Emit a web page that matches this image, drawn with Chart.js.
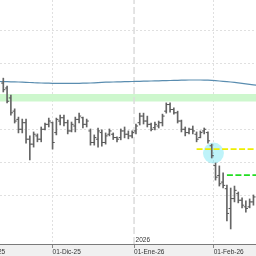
<!DOCTYPE html>
<html><head><meta charset="utf-8">
<script src="https://cdn.jsdelivr.net/npm/chart.js@4"></script>
<style>
html,body{margin:0;padding:0;width:256px;height:256px;overflow:hidden;background:#fff}
#wrap{position:absolute;left:-40px;top:0;width:296px;height:256px}
</style></head>
<body><div id="wrap"><canvas id="c" width="296" height="256"></canvas></div>
<script>
// trading days (categories)
const dates = [
'2025-11-03','2025-11-04','2025-11-05','2025-11-06','2025-11-07','2025-11-10','2025-11-11','2025-11-12','2025-11-13','2025-11-14',
'2025-11-17','2025-11-18','2025-11-19','2025-11-20','2025-11-21','2025-11-24','2025-11-25','2025-11-26','2025-11-27','2025-11-28',
'2025-12-01','2025-12-02','2025-12-03','2025-12-04','2025-12-05','2025-12-08','2025-12-09','2025-12-10','2025-12-11','2025-12-12',
'2025-12-15','2025-12-16','2025-12-17','2025-12-18','2025-12-19','2025-12-22','2025-12-23','2025-12-24','2025-12-26','2025-12-29',
'2025-12-30','2025-12-31','2026-01-02','2026-01-05','2026-01-06','2026-01-07','2026-01-08','2026-01-09','2026-01-12','2026-01-13',
'2026-01-14','2026-01-15','2026-01-16','2026-01-19','2026-01-20','2026-01-21','2026-01-22','2026-01-23','2026-01-26','2026-01-27',
'2026-01-28','2026-01-29','2026-01-30','2026-02-02','2026-02-03','2026-02-04','2026-02-05','2026-02-06','2026-02-09','2026-02-10',
'2026-02-11','2026-02-12','2026-02-13','2026-02-16','2026-02-17'];

const high = [null,null,null,null,null,null,null,
23.55,23.31,23.04,22.62,22.37,22.31,22.31,21.80,21.92,21.86,
22.07,22.19,22.34,22.22,22.34,22.43,22.43,22.28,22.22,22.37,
22.49,22.37,22.31,22.01,21.83,22.04,21.98,21.89,22.01,21.89,
21.77,22.01,22.07,21.95,21.95,22.16,22.49,22.49,22.40,22.19,
22.22,22.25,22.46,22.80,22.80,22.65,22.55,22.28,22.07,22.04,
22.10,21.92,21.95,22.04,21.92,21.55,20.98,20.89,20.68,20.31,
20.22,20.28,20.10,19.92,19.83,19.89,20.01,null];
const low = [null,null,null,null,null,null,null,
23.13,22.80,22.43,22.19,21.89,21.89,21.58,21.07,21.46,21.62,
21.62,21.98,22.07,21.40,21.83,22.13,22.10,21.86,21.92,21.92,
22.19,22.04,22.07,21.52,21.52,21.46,21.49,21.55,21.80,21.69,
21.62,21.68,21.74,21.71,21.74,21.86,22.13,22.16,22.07,21.95,
21.98,22.04,22.10,22.49,22.52,22.46,22.19,21.92,21.80,21.86,
21.86,21.62,21.74,21.86,21.58,21.13,20.46,20.28,20.22,19.22,
18.98,19.80,19.77,19.62,19.49,19.62,19.70,null];
const open = [null,null,null,null,null,null,null,
23.40,23.25,22.95,22.55,22.30,22.00,22.20,21.70,21.55,21.80,
21.70,22.00,22.15,22.20,21.90,22.25,22.35,22.20,21.95,22.10,
22.30,22.35,22.15,21.95,21.60,21.70,21.90,21.60,21.85,21.85,
21.75,21.75,21.95,21.85,21.80,21.95,22.20,22.40,22.25,22.15,
22.05,22.10,22.20,22.55,22.75,22.60,22.50,22.25,22.00,21.90,
22.00,21.85,21.75,21.95,21.90,21.50,20.90,20.60,20.40,20.20,
19.60,19.90,20.05,19.85,19.65,19.65,19.80,null];
const close = [null,null,null,null,null,null,null,
23.20,22.85,22.50,22.25,22.00,22.20,21.70,21.55,21.85,21.70,
22.00,22.15,22.25,21.60,22.30,22.35,22.20,21.95,22.15,22.30,
22.40,22.15,22.25,21.60,21.75,21.95,21.60,21.80,21.95,21.75,
21.70,21.95,21.85,21.80,21.90,22.10,22.40,22.25,22.15,22.00,
22.15,22.20,22.40,22.75,22.60,22.50,22.25,22.00,21.90,22.00,
21.95,21.70,21.90,22.00,21.65,21.20,20.55,20.35,20.30,19.45,
19.90,20.15,19.85,19.70,19.60,19.80,19.95,null];
// moving average
const movingAvg = [null,null,null,null,null,null,23.448,
23.445,23.442,23.439,23.436,23.433,23.430,23.424,23.418,23.412,23.409,
23.403,23.400,23.397,23.394,23.394,23.391,23.391,23.391,23.391,23.394,
23.394,23.397,23.400,23.403,23.409,23.415,23.421,23.427,23.430,23.433,
23.436,23.439,23.442,23.445,23.448,23.451,23.454,23.457,23.460,23.463,
23.467,23.470,23.473,23.476,23.479,23.482,23.485,23.488,23.491,23.494,
23.494,23.494,23.494,23.491,23.488,23.482,23.473,23.463,23.454,23.445,
23.433,23.421,23.409,23.394,23.379,23.363,23.348,23.333];

const gridLevels = [20, 21, 22, 23, 24, 25];
const zoneLevels = [22.84, 23.07];          // green band (low, high)
const yellowLevel = 21.40, yellowFrom = '2026-01-26';
const greenLevel = 20.61,  greenFrom = '2026-02-05';
const signalPos = 62.45, signalLevel = 21.28; // highlighted circle
const mesAbbr = ['Ene','Feb','Mar','Abr','May','Jun','Jul','Ago','Sep','Oct','Nov','Dic'];

const X_MIN = -4.425, X_MAX = 73.675, Y_MIN = 18.524, Y_MAX = 25.918;

// month ticks derived from the trading-day list
const monthTicks = [];
dates.forEach((d, i) => {
  const [y, m, day] = d.split('-').map(Number);
  const prev = i > 0 ? dates[i-1].split('-').map(Number) : null;
  if (!prev || prev[1] !== m) {
    monthTicks.push({pos: day === 1 ? i : i - 0.5,
      label: '01-' + mesAbbr[m-1] + '-' + String(y).slice(2),
      year: y, newYear: !!prev && prev[0] !== y});
  }
});
const yearTick = monthTicks.find(t => t.newYear);
const idx = dates.map((_, i) => i);
const last = dates.length - 1;

const bgPlugin = {id:'bg', beforeDraw(c){
  const {ctx, chartArea:a, width, height} = c;
  ctx.save(); ctx.fillStyle = '#fff'; ctx.fillRect(0,0,width,height);
  ctx.fillStyle = '#f0f0f0'; ctx.fillRect(0, a.bottom, width, height - a.bottom); ctx.restore();
}};
const yearPlugin = {id:'year', afterDraw(c){
  if (!yearTick) return;
  const ctx = c.ctx, px = c.scales.x.getPixelForValue(yearTick.pos);
  ctx.save(); ctx.font = '6.5px "Liberation Sans", Arial, sans-serif'; ctx.fillStyle = '#333';
  ctx.textAlign = 'left'; ctx.textBaseline = 'alphabetic';
  ctx.fillText(String(yearTick.year), px + 1.5, c.chartArea.bottom - 2.3); ctx.restore();
}};

new Chart(document.getElementById('c'), {
  type: 'line',
  data: { datasets: [
    {type:'line', data:[{x:X_MIN-1,y:zoneLevels[0]},{x:X_MAX+1,y:zoneLevels[0]}], borderWidth:0, pointRadius:0, order:20},
    {type:'line', data:[{x:X_MIN-1,y:zoneLevels[1]},{x:X_MAX+1,y:zoneLevels[1]}], borderWidth:0, pointRadius:0, fill:'-1', backgroundColor:'#cdf7cd', order:19},
    {type:'line', data:[{x:yearTick.pos,y:Y_MIN},{x:yearTick.pos,y:Y_MAX}], borderColor:'#dcdcdc', borderWidth:1.5, borderDash:[7,3], pointRadius:0, order:18},
    {type:'line', data: idx.map(i => ({x:i, y:movingAvg[i]})), borderColor:'#5a8db0', borderWidth:1.2, pointRadius:0, spanGaps:true, order:15},
    {type:'scatter', data:[{x:signalPos, y:signalLevel}], pointRadius:10.5, backgroundColor:'rgba(110,228,242,0.45)', borderWidth:0, order:12},
    {type:'bar', data: idx.filter(i => high[i] != null).map(i => ({x:i, y:[low[i], high[i]]})), backgroundColor:'#666', barThickness:1, grouped:false, borderWidth:0, order:6},
    {type:'scatter', data: idx.filter(i => open[i] != null).map(i => ({x:i-0.3, y:open[i]})), pointStyle:'line', pointRadius:1, borderColor:'#555', borderWidth:1, order:5},
    {type:'scatter', data: idx.filter(i => close[i] != null).map(i => ({x:i+0.3, y:close[i]})), pointStyle:'line', pointRadius:1, borderColor:'#555', borderWidth:1, order:5},
    {type:'line', data:[{x:dates.indexOf(yellowFrom), y:yellowLevel},{x:last, y:yellowLevel}], borderColor:'#eeee00', borderWidth:1.8, borderDash:[6,2.5], pointRadius:0, order:1},
    {type:'line', data:[{x:dates.indexOf(greenFrom), y:greenLevel},{x:last, y:greenLevel}], borderColor:'#22dd22', borderWidth:1.8, borderDash:[6,2.5], pointRadius:0, order:1}
  ]},
  options: {
    responsive:false, animation:false, devicePixelRatio:1,
    layout:{padding:0, autoPadding:false},
    plugins:{legend:{display:false}, tooltip:{enabled:false}},
    events:[],
    scales:{
      x:{type:'linear', position:'bottom', min:X_MIN, max:X_MAX, offset:false,
        afterBuildTicks: s => { s.ticks = monthTicks.map(t => ({value:t.pos})); },
        afterFit: s => { s.height = 12; },
        ticks:{autoSkip:false, maxRotation:0, minRotation:0, align:'start', padding:0, color:'#333',
          font:{family:'"Liberation Sans", Arial, sans-serif', size:6.5},
          callback: v => { const t = monthTicks.find(t => Math.abs(t.pos - v) < 1e-6); return t ? t.label : ''; }},
        grid:{offset:false, color: ctx => (ctx.tick && yearTick && Math.abs(ctx.tick.value - yearTick.pos) < 1e-6) ? 'rgba(0,0,0,0)' : '#e0e0e0',
          lineWidth:1, drawTicks:true, tickLength:4, tickColor:'#888', tickWidth:1},
        border:{display:true, color:'#7a7a7a', width:1, dash:[2,2]}
      },
      y:{type:'linear', position:'right', min:Y_MIN, max:Y_MAX,
        afterBuildTicks: s => { s.ticks = gridLevels.map(v => ({value:v})); },
        afterFit: s => { s.width = 0; },
        ticks:{display:false},
        grid:{color:'#e0e0e0', lineWidth:1, drawTicks:false},
        border:{display:false, dash:[2,2]}
      }
    }
  },
  plugins:[bgPlugin, yearPlugin]
});
</script>
</body></html>
